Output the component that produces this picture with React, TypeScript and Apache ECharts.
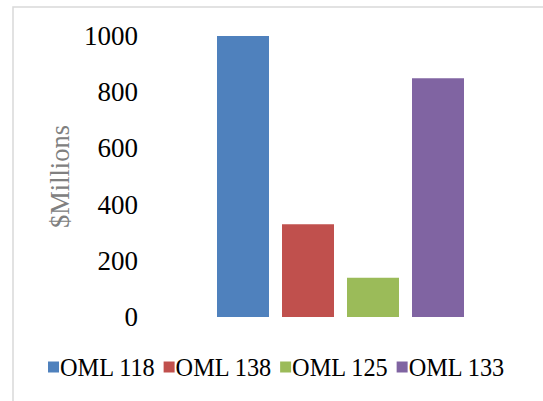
import React, { useEffect, useRef } from "react";
import * as echarts from "echarts";

const categories = [""];
const seriesNames = ["OML 118", "OML 138", "OML 125", "OML 133"];
const seriesValues = [1000, 330, 140, 850];
const colors = ["#4F81BD", "#C0504D", "#9BBB59", "#8064A2"];
const yTicks = [0, 200, 400, 600, 800, 1000];

export default function App() {
  const ref = useRef<HTMLDivElement>(null);
  useEffect(() => {
    const chart = echarts.init(ref.current!, undefined, { renderer: "svg" });
    const font = "'Liberation Serif', 'Times New Roman', serif";
    chart.setOption({
      animation: false,
      backgroundColor: "#ffffff",
      graphic: [
        {
          type: "rect",
          shape: { x: 13, y: 7, width: 600, height: 500 },
          style: { fill: "none", stroke: "#d9d9d9", lineWidth: 1.5 },
          silent: true,
        },
      ],
      grid: { left: 150, right: 12, top: 36, height: 281 },
      legend: {
        left: 48,
        top: 355,
        padding: 0,
        itemWidth: 11,
        itemHeight: 11,
        itemGap: 8,
        icon: "rect",
        textStyle: {
          fontFamily: font,
          fontSize: 24.3,
          color: "#000",
          padding: [0, 0, 0, -4],
        },
        data: seriesNames,
      },
      xAxis: {
        type: "category",
        data: categories,
        axisLine: { show: false },
        axisTick: { show: false },
        axisLabel: { show: false },
      },
      yAxis: {
        type: "value",
        min: yTicks[0],
        max: yTicks[yTicks.length - 1],
        interval: 200,
        name: "$Millions",
        nameLocation: "middle",
        nameGap: 76,
        nameRotate: 90,
        nameTextStyle: { fontFamily: font, fontSize: 26.5, color: "#808080" },
        axisLine: { show: false },
        axisTick: { show: false },
        splitLine: { show: false },
        axisLabel: {
          fontFamily: font,
          fontSize: 27,
          color: "#000",
          margin: 12,
          formatter: (v: number) => String(v),
        },
      },
      series: seriesNames.map((name, i) => ({
        name,
        type: "bar",
        barWidth: 52,
        barGap: "25%",
        itemStyle: { color: colors[i] },
        data: [seriesValues[i]],
      })),
    });
    return () => chart.dispose();
  }, []);
  return (
    <div
      ref={ref}
      style={{ position: "fixed", left: 0, top: 0, width: 543, height: 401 }}
    />
  );
}
